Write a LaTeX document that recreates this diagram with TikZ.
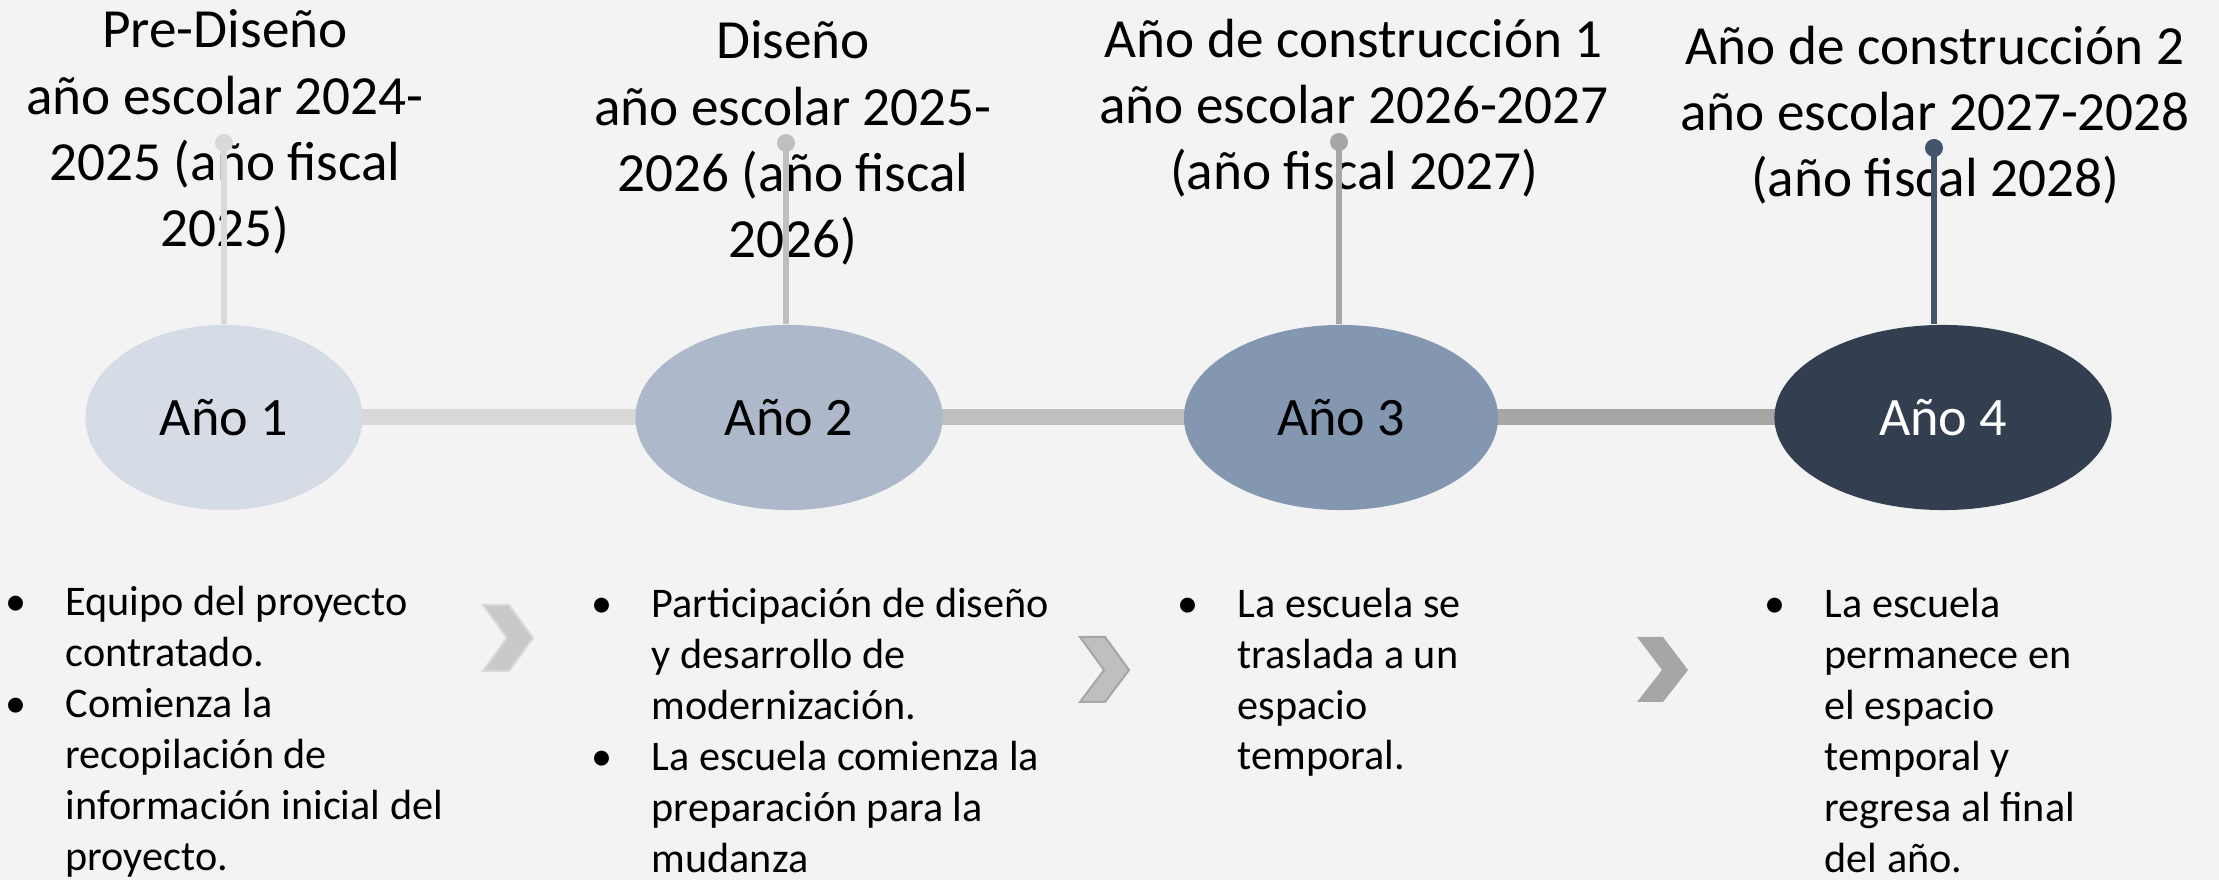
\documentclass[tikz,border=0pt]{standalone}
\usepackage{fontspec}
\setmainfont{Carlito}
\usetikzlibrary{shapes.geometric,backgrounds}
\definecolor{bgc}{HTML}{F3F3F3}
\definecolor{yrA}{HTML}{D6DCE5}
\definecolor{yrB}{HTML}{ADB9CA}
\definecolor{yrC}{HTML}{8497B0}
\definecolor{yrD}{HTML}{333F50}
\definecolor{lnA}{HTML}{D9D9D9}
\definecolor{lnB}{HTML}{BFBFBF}
\definecolor{lnC}{HTML}{A6A6A6}
\definecolor{lnD}{HTML}{44546A}
\newcommand{\bul}{\llap{\makebox[17pt][l]{•}}}

\begin{document}
\begin{tikzpicture}[x=0.01cm,y=-0.01cm,
yr/.style={ellipse,minimum height=1.85cm,inner sep=0pt,font=\fontsize{15.4}{18.5}\selectfont},
head/.style={align=center,anchor=base,inner sep=0pt,font=\fontsize{15.7}{18.9}\selectfont},
items/.style={align=left,anchor=base west,inner sep=0pt,font=\fontsize{12}{14.5}\selectfont},
bar/.style={line width=0.16cm},
stem/.style={line width=0.06cm}]
\useasboundingbox (0,0) rectangle (2219,880);
% years
\node[yr,fill=yrA,minimum width=2.77cm] (yr1) at (224,417.5) {Año 1};
\node[yr,fill=yrB,minimum width=3.07cm] (yr2) at (789,417.5) {Año 2};
\node[yr,fill=yrC,minimum width=3.14cm] (yr3) at (1341,417.5) {Año 3};
\node[yr,fill=yrD,minimum width=3.37cm,text=white] (yr4) at (1943,417.5) {Año 4};
% headings (placed by their last line)
\node[head] (hd1) at (225,247) {Pre-Diseño\\año escolar 2024-\\2025 (año fiscal\\2025)};
\node[head] (hd2) at (793,258) {Diseño\\año escolar 2025-\\2026 (año fiscal\\2026)};
\node[head] (hd3) at (1354,190) {Año de construcción 1\\año escolar 2026-2027\\(año fiscal 2027)};
\node[head] (hd4) at (1935,197) {Año de construcción 2\\año escolar 2027-2028\\(año fiscal 2028)};
% stems
\coordinate (dot1) at (224,143);
\coordinate (dot2) at (786,143);
\coordinate (dot3) at (1339,142);
\coordinate (dot4) at (1934,148);
\draw[stem,lnA] (dot1)--(dot1 |- yr1.north);\fill[lnA] (dot1) circle (0.09cm);
\draw[stem,lnB] (dot2)--(dot2 |- yr2.north);\fill[lnB] (dot2) circle (0.09cm);
\draw[stem,lnC] (dot3)--(dot3 |- yr3.north);\fill[lnC] (dot3) circle (0.09cm);
\draw[stem,lnD] (dot4)--(dot4 |- yr4.north);\fill[lnD] (dot4) circle (0.09cm);
% tasks (placed by their last line)
\node[items] (lst1) at (65,870) {\bul Equipo del proyecto\\contratado.\\\bul Comienza la\\recopilación de\\información inicial del\\proyecto.};
\node[items] (lst2) at (651,872) {\bul Participación de diseño\\y desarrollo de\\modernización.\\\bul La escuela comienza la\\preparación para la\\mudanza};
\node[items] (lst3) at (1237,770) {\bul La escuela se\\traslada a un\\espacio\\temporal.};
\node[items] (lst4) at (1824,872) {\bul La escuela\\permanece en\\el espacio\\temporal y\\regresa al final\\del año.};
% chevrons
\filldraw[fill=lnB!85!white,draw=lnA,line width=0.02cm] (483,605)--++(26,0)--++(24,33)--++(-24,33)--++(-26,0)--++(24,-33)--cycle;
\filldraw[fill=lnB,draw=lnC,line width=0.02cm] (1080,637)--++(25,0)--++(24,33)--++(-24,32)--++(-25,0)--++(24,-32)--cycle;
\fill[lnC] (1637,637)--++(26,0)--++(25,33)--++(-25,32)--++(-26,0)--++(25,-32)--cycle;
\begin{scope}[on background layer]
\fill[bgc] (0,0) rectangle (2219,880);
\draw[bar,lnA] (yr1.center)--(yr2.center);
\draw[bar,lnB] (yr2.center)--(yr3.center);
\draw[bar,lnC] (yr3.center)--(yr4.center);
\end{scope}
\end{tikzpicture}
\end{document}
